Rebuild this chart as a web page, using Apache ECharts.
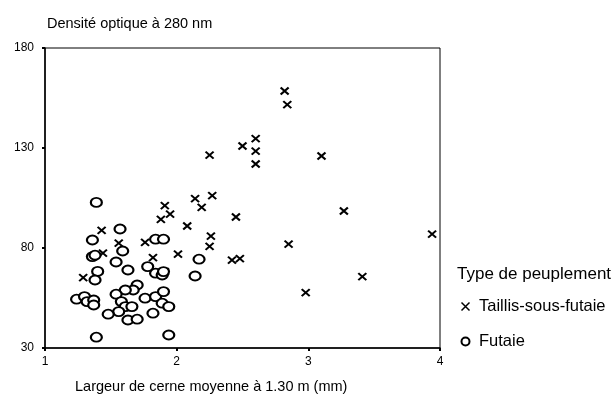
<!DOCTYPE html>
<html>
<head>
<meta charset="utf-8">
<script src="https://cdn.jsdelivr.net/npm/echarts@6/dist/echarts.min.js"></script>
<style>
html, body { margin: 0; padding: 0; background: #fff; }
#chart { width: 614px; height: 401px; }
</style>
</head>
<body>
<div id="chart"></div>
<script>
// Taillis-sous-futaie : [largeur de cerne (mm), densité optique]
var taillisX = [2.82, 2.84, 2.60, 2.50, 2.60, 2.60, 2.25, 3.10, 2.14, 2.27, 2.19, 1.91, 1.95, 1.88, 2.08, 2.45, 3.27,
    2.26, 2.25, 2.01, 2.42, 2.48, 2.85, 3.94, 3.41, 2.98, 1.82, 1.76, 1.43, 1.44, 1.56, 1.29, 1.91];
var taillisY = [158.5, 151.7, 134.7, 131, 128.4, 122, 126.4, 126, 104.7, 106.2, 100.3, 101.2, 96.9, 94.3, 91, 95.5, 98.5,
    85.9, 80.8, 76.9, 73.9, 74.7, 81.9, 86.9, 65.7, 57.7, 75.2, 82.8, 88.8, 77.4, 82.4, 65.2, 68.2];
// Futaie
var futaieX = [1.39, 1.57, 1.36, 1.84, 1.90, 1.59, 1.36, 1.38, 1.54, 1.63, 1.40, 1.38, 2.17, 2.14, 1.78, 1.84, 1.89, 1.90,
    1.70, 1.67, 1.61, 1.54, 1.24, 1.30, 1.32, 1.37, 1.37, 1.58, 1.61, 1.66, 1.56, 1.48, 1.63, 1.70, 1.76, 1.84,
    1.90, 1.89, 1.94, 1.82, 1.39, 1.94];
var futaieY = [102.8, 89.5, 84, 84.4, 84.4, 78.5, 75.7, 76.4, 73, 69, 68.3, 64, 74.4, 66, 70.7, 67.4, 66.5, 68.2,
    61.5, 59, 59, 56.9, 54.4, 55.7, 53.2, 54, 51.5, 53.2, 50.7, 50.7, 48.2, 46.9, 44, 44.4, 54.9, 55.7,
    58.2, 52.4, 50.7, 47.4, 35.4, 36.5];
var xTicks = [1, 2, 3, 4];
var yTicks = [30, 80, 130, 180];

var font = 'Liberation Sans, Arial, sans-serif';
var crossPath = 'path://M0,0L10,10M10,0L0,10';

function pairs(xs, ys) {
    return xs.map(function (x, i) { return [x, ys[i]]; });
}

var chart = echarts.init(document.getElementById('chart'));
chart.setOption({
    backgroundColor: '#fff',
    animation: false,
    textStyle: { fontFamily: font, color: '#000' },
    title: [
        { text: 'Densité optique à 280 nm', left: 42, top: 11,
          textStyle: { fontFamily: font, fontSize: 14.5, fontWeight: 'normal', color: '#000' } },
        { text: 'Largeur de cerne moyenne à 1.30 m (mm)', left: 70, top: 374,
          textStyle: { fontFamily: font, fontSize: 14.5, fontWeight: 'normal', color: '#000' } },
        { text: 'Type de peuplement', left: 452, top: 261,
          textStyle: { fontFamily: font, fontSize: 17, fontWeight: 'normal', color: '#000' } }
    ],
    grid: {
        left: 45, right: 174, top: 48, bottom: 53,
        show: true, borderColor: '#000', borderWidth: 1
    },
    legend: {
        orient: 'vertical',
        left: 454, top: 293,
        itemGap: 18,
        itemWidth: 9, itemHeight: 8,
        textStyle: { fontFamily: font, fontSize: 16.5, color: '#000', padding: [0, 0, 0, 4] },
        data: [
            { name: 'Taillis-sous-futaie', icon: crossPath,
              itemStyle: { color: 'none', borderColor: '#000', borderWidth: 1.5 } },
            { name: 'Futaie', icon: 'emptyCircle',
              itemStyle: { color: '#000', borderColor: '#000', borderWidth: 1.5 } }
        ]
    },
    xAxis: {
        type: 'value', min: xTicks[0], max: xTicks[xTicks.length - 1], interval: 1,
        axisLine: { show: true, lineStyle: { color: '#000', width: 1.5 } },
        axisTick: { show: true, length: 3, lineStyle: { color: '#000', width: 2 } },
        axisLabel: { fontFamily: font, fontSize: 12, color: '#000', margin: 8 },
        splitLine: { show: false }
    },
    yAxis: {
        type: 'value', min: yTicks[0], max: yTicks[yTicks.length - 1], interval: 50,
        axisLine: { show: true, lineStyle: { color: '#000', width: 1.5 } },
        axisTick: { show: true, length: 3, lineStyle: { color: '#000', width: 2 } },
        axisLabel: { fontFamily: font, fontSize: 12, color: '#000', margin: 11 },
        splitLine: { show: false }
    },
    series: [
        {
            name: 'Taillis-sous-futaie', type: 'scatter',
            symbol: crossPath, symbolSize: [8, 7],
            itemStyle: { color: 'none', borderColor: '#000', borderWidth: 2, opacity: 1 },
            data: pairs(taillisX, taillisY)
        },
        {
            name: 'Futaie', type: 'scatter',
            symbol: 'emptyCircle', symbolSize: [11, 9],
            itemStyle: { color: '#000', borderColor: '#000', borderWidth: 1.6, opacity: 1 },
            data: pairs(futaieX, futaieY)
        }
    ]
});
</script>
</body>
</html>
